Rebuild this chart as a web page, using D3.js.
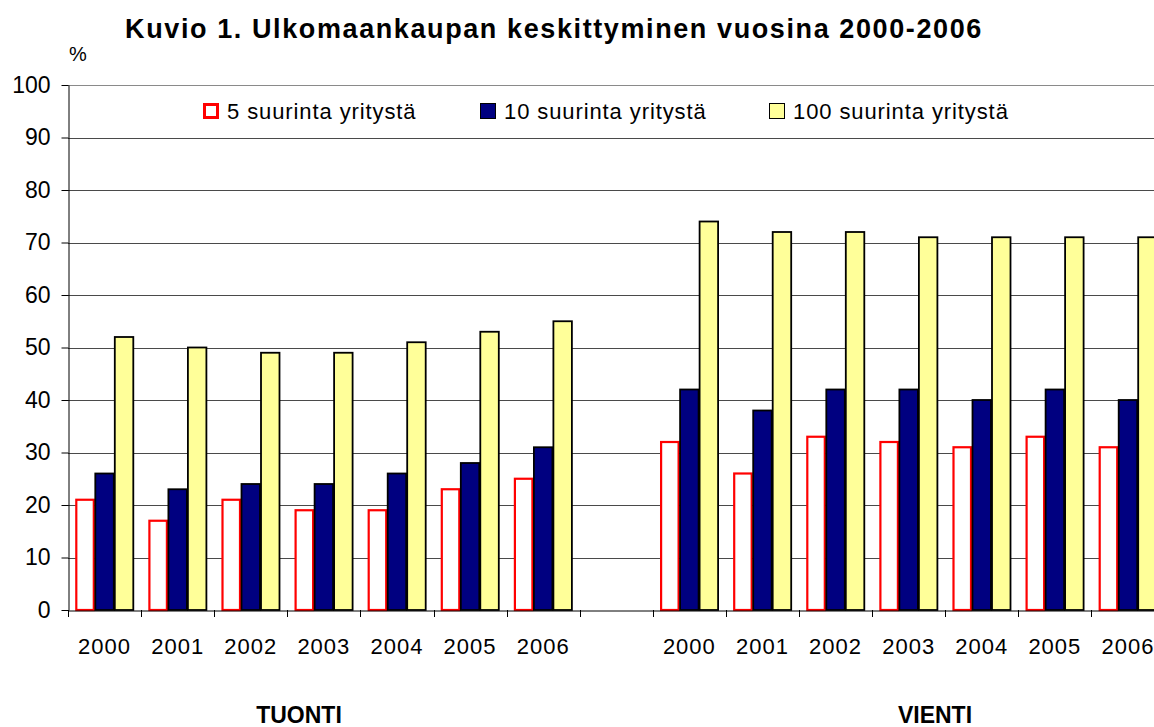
<!DOCTYPE html>
<html>
<head>
<meta charset="utf-8">
<script src="https://cdn.jsdelivr.net/npm/d3@7"></script>
<style>
  body { margin: 0; background: #fff; }
  text { font-family: "Liberation Sans", Arial, sans-serif; }
</style>
</head>
<body>
<svg id="chart" width="1154" height="727"></svg>
<script>
// data
var years = ["2000", "2001", "2002", "2003", "2004", "2005", "2006"];
var seriesNames = ["5 suurinta yritystä", "10 suurinta yritystä", "100 suurinta yritystä"];

var tuonti5   = [21, 17, 21, 19, 19, 23, 25];
var tuonti10  = [26, 23, 24, 24, 26, 28, 31];
var tuonti100 = [52, 50, 49, 49, 51, 53, 55];

var vienti5   = [32, 26, 33, 32, 31, 33, 31];
var vienti10  = [42, 38, 42, 42, 40, 42, 40];
var vienti100 = [74, 72, 72, 71, 71, 71, 71];

var yTicks = [0, 10, 20, 30, 40, 50, 60, 70, 80, 90, 100];

// build categories: TUONTI years, one empty slot, VIENTI years
var rows = [];
years.forEach(function(y, i) {
    rows.push({ key: "T" + y, label: y, values: [tuonti5[i], tuonti10[i], tuonti100[i]] });
});
rows.push({ key: "gap", label: "", values: [] });
years.forEach(function(y, i) {
    rows.push({ key: "V" + y, label: y, values: [vienti5[i], vienti10[i], vienti100[i]] });
});

var svg = d3.select("#chart");

var plotLeft = 68, plotTop = 85, plotBottom = 610;
var catW = 73.1;

var x = d3.scaleBand()
    .domain(rows.map(function(d) { return d.key }))
    .range([plotLeft, plotLeft + catW * rows.length])
    .paddingInner(0).paddingOuter(0);

var groupGap = 14.6;
var x1 = d3.scaleBand()
    .domain(d3.range(seriesNames.length))
    .range([groupGap / 2, x.bandwidth() - groupGap / 2]);

var y = d3.scaleLinear().domain([0, 100]).range([plotBottom, plotTop]);

var fills   = ["#FFFFFF", "#000080", "#FFFF99"];
var strokes = ["#FF0000", "#000000", "#000000"];

// gridlines
svg.append("g").selectAll("line")
    .data(yTicks.filter(function(t) { return t > 0 }))
    .enter().append("line")
    .attr("x1", plotLeft).attr("x2", 1154)
    .attr("y1", function(d) { return Math.round(y(d)) + 0.5 })
    .attr("y2", function(d) { return Math.round(y(d)) + 0.5 })
    .attr("stroke", function(d) { return d == 100 ? "#8a8a8a" : "#4a4a4a" })
    .attr("stroke-width", 1);

// bars
var groups = svg.append("g").selectAll("g")
    .data(rows)
    .enter().append("g")
    .attr("transform", function(d) { return "translate(" + x(d.key) + ",0)" });

groups.selectAll("rect")
    .data(function(d) { return d.values.map(function(v, i) { return { s: i, v: v } }) })
    .enter().append("rect")
    .attr("x", function(d) { return x1(d.s) + (d.s == 0 ? 1 : 0.5) })
    .attr("width", function(d) { return x1.bandwidth() - (d.s == 0 ? 2 : 1) })
    .attr("y", function(d) { return y(d.v) })
    .attr("height", function(d) { return y(0) - y(d.v) })
    .attr("fill", function(d) { return fills[d.s] })
    .attr("stroke", function(d) { return strokes[d.s] })
    .attr("stroke-width", function(d) { return d.s == 0 ? 2.2 : 1.8 });

// y axis
var yAxis = svg.append("g")
    .attr("transform", "translate(" + (plotLeft + 0.5) + ",0)")
    .call(d3.axisLeft(y).tickValues(yTicks).tickSize(7).tickPadding(11).tickSizeOuter(0));
yAxis.select(".domain").attr("stroke", "#000");
yAxis.selectAll(".tick line").attr("stroke", "#000");
yAxis.selectAll(".tick text")
    .attr("font-size", 23).attr("fill", "#000")
    .style("font-family", "'Liberation Sans', Arial, sans-serif");

// x axis
var xAxis = svg.append("g")
    .attr("transform", "translate(0," + (plotBottom + 0.5) + ")")
    .call(d3.axisBottom(x).tickSize(0).tickPadding(28).tickFormat(function(k) {
        return rows.find(function(r) { return r.key == k }).label;
    }));
xAxis.select(".domain").attr("stroke", "#000");
xAxis.selectAll(".tick text")
    .attr("font-size", 22).attr("fill", "#000")
    .attr("letter-spacing", 1)
    .style("font-family", "'Liberation Sans', Arial, sans-serif");

// boundary tick marks between categories
svg.append("g").selectAll("line")
    .data(rows)
    .enter().append("line")
    .attr("x1", function(d) { return Math.round(x(d.key)) + 0.5 })
    .attr("x2", function(d) { return Math.round(x(d.key)) + 0.5 })
    .attr("y1", plotBottom).attr("y2", plotBottom + 7)
    .attr("stroke", "#000");

// title and labels
svg.append("text")
    .attr("x", 554).attr("y", 38)
    .attr("text-anchor", "middle")
    .attr("font-size", 27).attr("font-weight", "bold")
    .attr("letter-spacing", 1.6)
    .text("Kuvio 1. Ulkomaankaupan keskittyminen vuosina 2000-2006");

svg.append("text")
    .attr("x", 69).attr("y", 61)
    .attr("font-size", 20)
    .text("%");

svg.append("text")
    .attr("x", 299).attr("y", 723)
    .attr("text-anchor", "middle")
    .attr("font-size", 23).attr("font-weight", "bold")
    .text("TUONTI");

svg.append("text")
    .attr("x", 935).attr("y", 723)
    .attr("text-anchor", "middle")
    .attr("font-size", 23).attr("font-weight", "bold")
    .text("VIENTI");

// legend
var legendX = [203, 480, 769];
var legend = svg.append("g").selectAll("g")
    .data(seriesNames)
    .enter().append("g")
    .attr("transform", function(d, i) { return "translate(" + legendX[i] + ",103)" });

legend.append("rect")
    .attr("x", function(d, i) { return i == 0 ? 1.5 : 0.5 })
    .attr("y", function(d, i) { return i == 0 ? 1.5 : 0.5 })
    .attr("width", function(d, i) { return i == 0 ? 13 : 15 })
    .attr("height", function(d, i) { return i == 0 ? 13 : 15 })
    .attr("fill", function(d, i) { return fills[i] })
    .attr("stroke", function(d, i) { return strokes[i] })
    .attr("stroke-width", function(d, i) { return i == 0 ? 3 : 1 });

legend.append("text")
    .attr("x", 24).attr("y", 16)
    .attr("font-size", 22)
    .attr("letter-spacing", 0.9)
    .text(function(d) { return d });
</script>
</body>
</html>
